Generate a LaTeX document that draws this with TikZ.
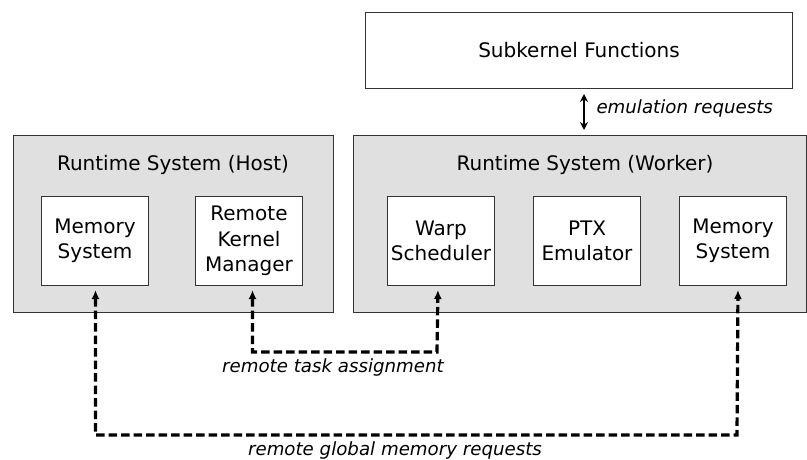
\documentclass[tikz,border=0pt]{standalone}
\usepackage{fontspec}
\setmainfont{DejaVu Sans}
\usetikzlibrary{arrows.meta,positioning,calc}
\definecolor{panelgray}{HTML}{E0E0E0}
\definecolor{edgegray}{HTML}{333333}
\tikzset{
  panel/.style={draw=edgegray,line width=1pt,fill=panelgray,anchor=north west,inner sep=0pt},
  unit/.style={draw=edgegray,line width=1pt,fill=white,anchor=north west,inner sep=0pt,
    minimum width=107pt,minimum height=89pt,align=center,font=\fontsize{20}{25.5}\selectfont},
  title/.style={font=\fontsize{20}{24}\selectfont},
  note/.style={font=\itshape\fontsize{18.2}{22}\selectfont},
  link/.style={line width=3.2pt,dash pattern=on 8.5pt off 4pt,
    {Latex[length=9pt,width=8pt]}-{Latex[length=9pt,width=8pt]},shorten <=4pt,shorten >=4pt},
}
\begin{document}
\begin{tikzpicture}[x=1pt,y=-1pt]
\useasboundingbox (0,0) rectangle (807,460);

% top box
\node[draw=edgegray,line width=1pt,fill=white,anchor=north west,minimum width=427pt,minimum height=76pt,
  font=\fontsize{20}{24}\selectfont] (sub) at (365,12) {Subkernel Functions};

% host panel
\node[panel,minimum width=320pt,minimum height=177pt] (host) at (13,135) {};
\node[title] (hosttitle) at (173,165) {Runtime System (Host)};
\node[unit] (hmem) at (41,196) {Memory\\System};
\node[unit] (rkm) at (195,196) {Remote\\Kernel\\Manager};

% worker panel
\node[panel,minimum width=453pt,minimum height=177pt] (worker) at (353,135) {};
\node[title] (worktitle) at (585,165) {Runtime System (Worker)};
\node[unit] (warp) at (387,196) {Warp\\Scheduler};
\node[unit] (ptx) at (533,196) {PTX\\Emulator};
\node[unit] (wmem) at (679,196) {Memory\\System};

% emulation requests
\draw[line width=1.8pt,{Stealth[length=8pt,width=8pt]}-{Stealth[length=8pt,width=8pt]},shorten <=5pt,shorten >=5pt]
  (sub.south -| 584,0) -- (worker.north -| 584,0);
\node[note,anchor=west] (emul) at (593,108) {emulation requests};

% remote task assignment
\coordinate (taskbase) at (0,352);
\draw[link] ([xshift=3.5pt]rkm.south) |- (taskbase -| 437,0) -- ([xshift=-3pt]warp.south);
\node[note] (tasklabel) at (333,367) {remote task assignment};

% remote global memory requests
\coordinate (membase) at (0,435);
\draw[link] ([xshift=0.5pt]hmem.south) |- (membase -| 737,0) -- ([xshift=5pt]wmem.south);
\node[note] (memlabel) at (395,450) {remote global memory requests};
\end{tikzpicture}
\end{document}
